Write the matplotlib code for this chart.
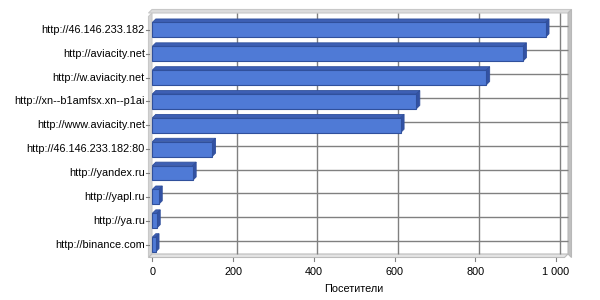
import matplotlib
matplotlib.use("Agg")
import matplotlib.pyplot as plt
from matplotlib.patches import Polygon
from matplotlib import transforms
import numpy as np

sites = [
    "http://46.146.233.182",
    "http://aviacity.net",
    "http://w.aviacity.net",
    "http://xn--b1amfsx.xn--p1ai",
    "http://www.aviacity.net",
    "http://46.146.233.182:80",
    "http://yandex.ru",
    "http://yapl.ru",
    "http://ya.ru",
    "http://binance.com",
]
visits = [974, 918, 827, 654, 615, 148, 100, 16, 11, 8]
xticks = [0, 200, 400, 600, 800, 1000]
xticklabels = ["0", "200", "400", "600", "800", "1 000"]
xlabel = "Посетители"

W, H = 600, 300
DEPTH = 3.5  # px, pseudo 3d offset
FS = 7.8

plt.rcParams["font.family"] = ["Liberation Sans", "DejaVu Sans"]

fig = plt.figure(figsize=(W / 100, H / 100), dpi=100)
# front frame in pixels: left 148.5, right 564.5, top 16.5, bottom 257.5
L, R, T, B = 148.5, 564.5, 16.5, 257.5
ax = fig.add_axes([L / W, 1 - B / H, (R - L) / W, (B - T) / H])
n = len(sites)
ypos = np.arange(n)
ax.set_xlim(-9.4, 1021)
ax.set_ylim(n - 1 + 0.54, -0.56)
for s in ax.spines.values():
    s.set_visible(False)
ax.set_xticks([])
ax.set_yticks([])

# data offset for the depth
p0 = ax.transData.transform((0, 0))
p1 = ax.transData.transform((1, 1))
ddx = DEPTH / (p1[0] - p0[0])
ddy = DEPTH / (p1[1] - p0[1])
back = transforms.offset_copy(ax.transData, fig=fig, x=DEPTH, y=DEPTH, units="dots")

x0, x1 = ax.get_xlim()
yb, yt = ax.get_ylim()

# walls
wall_kw = dict(closed=True, clip_on=False, lw=0.8)
ax.add_patch(Polygon([(x0, yb), (x0, yt), (x0 + ddx, yt + ddy), (x0 + ddx, yb + ddy)],
                     fc="#d4d4d4", ec="#c8c8c8", zorder=1, **wall_kw))
ax.add_patch(Polygon([(x0, yb), (x1, yb), (x1 + ddx, yb + ddy), (x0 + ddx, yb + ddy)],
                     fc="#e4e4e4", ec="#bcbcbc", zorder=1, **wall_kw))
# back wall thickness (top and right)
ax.add_patch(Polygon([(x0, yt + ddy), (x0 + ddx, yt + 2 * ddy), (x1 + 2 * ddx, yt + 2 * ddy),
                      (x1 + ddx, yt + ddy)],
                     fc="#dcdcdc", ec="#c8c8c8", zorder=1, **wall_kw))
ax.add_patch(Polygon([(x1 + ddx, yt + ddy), (x1 + 2 * ddx, yt + 2 * ddy), (x1 + 2 * ddx, yb),
                      (x1 + ddx, yb + ddy)],
                     fc="#c0c0c0", ec="#b8b8b8", zorder=1, **wall_kw))

# back gridlines
grid_kw = dict(color="#808080", lw=1.0, zorder=2, transform=back, clip_on=False)
ax.vlines(xticks[1:], yb, yt, **grid_kw)
ax.hlines(ypos, 0, x1, **grid_kw)

# bars: top and side faces, front faces on top
face = "#4f7ad6"
top_c = "#3d5fb4"
side_c = "#3352a4"
edge = "#30509c"
h = 0.62
for i, v in enumerate(visits):
    ytop = i - h / 2
    ybot = i + h / 2
    ax.add_patch(Polygon([(0, ytop), (v, ytop), (v + ddx, ytop + ddy), (ddx, ytop + ddy)],
                         closed=True, fc=top_c, ec=edge, lw=0.6, zorder=3))
    ax.add_patch(Polygon([(v, ytop), (v + ddx, ytop + ddy), (v + ddx, ybot + ddy), (v, ybot)],
                         closed=True, fc=side_c, ec=edge, lw=0.6, zorder=3))
ax.barh(ypos, visits, height=h, left=0, color=face, edgecolor=edge, lw=0.8, zorder=4)

# category tick marks and labels
for i, s in enumerate(sites):
    ax.plot([-0.006 * (x1 - x0) + x0, x0], [i, i], color="#808080", lw=0.8,
            clip_on=False, zorder=5)
    ax.text(x0 - 0.009 * (x1 - x0), i, s, ha="right", va="center", fontsize=FS,
            color="black")

# value axis
for xv, lab in zip(xticks, xticklabels):
    ax.plot([xv, xv], [yb, yb + 0.14], color="#808080", lw=0.8, clip_on=False, zorder=5)
    ax.text(xv, yb + 0.38, lab, ha="center", va="top", fontsize=FS, color="black")
ax.text(0.5 * (0 + 1000), yb + 1.1, xlabel, ha="center", va="top", fontsize=FS)

fig.savefig("out.png", dpi=100, facecolor="white")
